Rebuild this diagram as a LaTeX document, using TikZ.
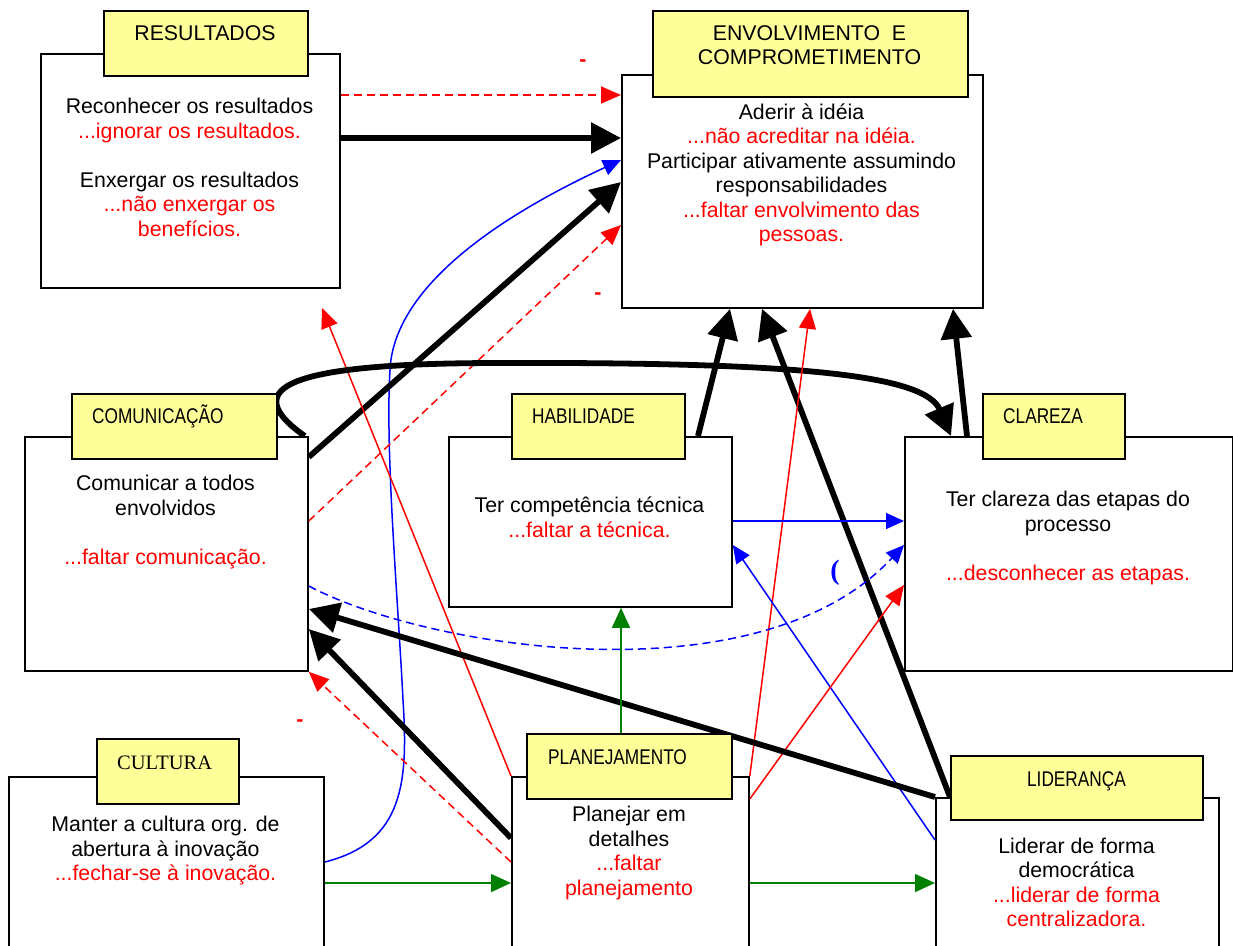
\documentclass[tikz,border=0pt]{standalone}
\usepackage{fontspec}
\setmainfont{Liberation Sans}
\newfontfamily\tagfont[FakeStretch=0.81]{Liberation Sans}
\newfontfamily\serifcult{Liberation Serif}
\usetikzlibrary{arrows.meta}
\definecolor{tagyellow}{RGB}{255,255,153}
\definecolor{negred}{RGB}{255,0,0}
\definecolor{posblue}{RGB}{0,0,255}
\definecolor{growgreen}{RGB}{0,128,0}
\pgfdeclarelayer{front}
\pgfsetlayers{main,front}
\newcommand{\bodysize}{\fontsize{21.3}{24.5}\selectfont}
\newcommand{\risk}[1]{\textcolor{negred}{#1}}
\tikzset{font=\bodysize}
\tikzset{
  bodybox/.style={draw, fill=white, line width=1.8pt, inner sep=0pt, anchor=north west},
  tagbox/.style={draw, fill=tagyellow, line width=1.8pt, inner sep=0pt, anchor=north west},
  tagname/.style={font=\tagfont\bodysize, inner sep=0pt, anchor=base west},
  gist/.style={align=center, inner sep=0pt, anchor=base},
  strong/.style={line width=5.8pt, -{Triangle[length=30pt,width=30pt]}},
  negline/.style={negred, line width=1.5pt, -{Triangle[length=20pt,width=17pt]}},
  negdash/.style={negline, dash pattern=on 8pt off 5pt},
  posline/.style={posblue, line width=1.5pt, -{Triangle[length=18pt,width=16pt]}},
  posdash/.style={posline, dash pattern=on 8pt off 5pt},
  growline/.style={growgreen, line width=1.5pt, -{Triangle[length=20pt,width=18pt]}},
  minus/.style={text=negred, font=\bodysize\bfseries, inner sep=0pt},
}

\begin{document}
\begin{tikzpicture}[x=1pt,y=-1pt]
  \useasboundingbox (0,0) rectangle (1233,945);
  % boxes
  \node[bodybox, minimum width=299pt, minimum height=234pt] (res) at (40,53) {};
  \node[bodybox, minimum width=361pt, minimum height=233pt] (env) at (621,74) {};
  \node[bodybox, minimum width=283pt, minimum height=234pt] (com) at (24,436) {};
  \node[bodybox, minimum width=283pt, minimum height=170pt] (hab) at (448,436) {};
  \node[bodybox, minimum width=328pt, minimum height=234pt] (cla) at (904,436) {};
  \node[bodybox, minimum width=315pt, minimum height=180pt] (cul) at (8,776) {};
  \node[bodybox, minimum width=237pt, minimum height=180pt] (pla) at (511,776) {};
  \node[bodybox, minimum width=283pt, minimum height=160pt] (lid) at (935,797) {};

  % texts (placed by the baseline of their last line)
  \node[gist] (resB) at (189.5,236) {Reconhecer os resultados\\
    \risk{...ignorar os resultados.}\\[24.5pt]
    Enxergar os resultados\\ \risk{...não enxergar os}\\ \risk{benefícios.}};
  \node[gist] (envB) at (801.5,241.5) {Aderir à idéia\\ \risk{...não acreditar na idéia.}\\
    Participar ativamente assumindo\\ responsabilidades\\
    \risk{...faltar envolvimento das}\\ \risk{pessoas.}};
  \node[gist] (comB) at (165.5,564) {Comunicar a todos\\ envolvidos\\[24.5pt]
    \risk{...faltar comunicação.}};
  \node[gist] (habB) at (589.5,537) {Ter competência técnica\\ \risk{...faltar a técnica.}};
  \node[gist] (claB) at (1068,580) {Ter clareza das etapas do\\ processo\\[24.5pt]
    \risk{...desconhecer as etapas.}};
  \node[gist] (culB) at (165.5,880.5) {Manter a cultura org. de\\ abertura à inovação\\
    \risk{...fechar-se à inovação.}};
  \node[gist] (plaB) at (629,895) {Planejar em\\ detalhes\\ \risk{...faltar}\\ \risk{planejamento}};
  \node[gist] (lidB) at (1076.5,926.7) {Liderar de forma\\ democrática\\
    \risk{...liderar de forma}\\ \risk{centralizadora.}};

  % tags
  \begin{pgfonlayer}{front}
  \node[tagbox, minimum width=204pt, minimum height=65pt] (resT) at (103,10) {};
  \node[tagbox, minimum width=315pt, minimum height=86pt] (envT) at (652,10) {};
  \node[tagbox, minimum width=205pt, minimum height=65pt] (comT) at (71,393) {};
  \node[tagbox, minimum width=173pt, minimum height=65pt] (habT) at (511,393) {};
  \node[tagbox, minimum width=142pt, minimum height=65pt] (claT) at (982,393) {};
  \node[tagbox, minimum width=142pt, minimum height=65pt] (culT) at (96,738) {};
  \node[tagbox, minimum width=205pt, minimum height=65pt] (plaT) at (526,733) {};
  \node[tagbox, minimum width=252pt, minimum height=64pt] (lidT) at (950,755) {};

  \node[gist] (resN) at (205,40.7) {RESULTADOS};
  \node[gist, font=\fontsize{21.3}{23.7}\selectfont] (envN) at (809.5,64)
    {ENVOLVIMENTO\ \ E\\ COMPROMETIMENTO};
  \node[tagname] (comN) at (92,423.3) {COMUNICAÇÃO};
  \node[tagname] (habN) at (532,423.3) {HABILIDADE};
  \node[tagname] (claN) at (1003,423.3) {CLAREZA};
  \node[tagname, font=\serifcult\fontsize{20.5}{21}\selectfont] (culN) at (117,769.3) {CULTURA};
  \node[tagname] (plaN) at (548,764) {PLANEJAMENTO};
  \node[tagname, anchor=base] (lidN) at (1076.5,786) {LIDERANÇA};
  \end{pgfonlayer}

  % links
  \coordinate (resfoot) at (322,308);
  \draw[negdash] (res.east |- 0,95) -- (env.west |- 0,95);
  \draw[strong] (res.east |- 0,138) -- (env.west |- 0,138);
  \draw[posline] (cul.east |- 0,862) .. controls (405,842) and (408,780) .. (403,700)
    .. controls (398,600) and (385,450) .. (390,370)
    .. controls (393,300) and (470,230) .. (env.west |- 0,160);
  \draw[strong] (com.east |- 0,457) -- (env.west |- 0,182);
  \draw[negdash] (com.east |- 0,521) -- (env.west |- 0,225);
  \draw[negline] (pla.north west) -- (resfoot);
  \draw[strong] ([xshift=-4pt]com.north east) .. controls (225,380) and (320,363) .. (500,363)
    .. controls (800,362) and (925,375) .. (cla.north west -| 951,0);
  \draw[strong] (hab.north -| 698,0) -- (env.south -| 730,0);
  \draw[strong] (lid.north -| lidT.west) -- (env.south -| 762,0);
  \draw[negline] (pla.north east) -- (env.south -| 810,0);
  \draw[strong] (cla.north -| 967,0) -- (env.south -| 953,0);
  \draw[posline] (hab.east |- 0,521) -- (cla.west |- 0,521);
  \draw[posline] (lid.west |- 0,840) -- (hab.east |- 0,545);
  \draw[posdash] (com.east |- 0,586) .. controls (430,650) and (760,700) .. (cla.west |- 0,545);
  \draw[negline] (pla.east |- 0,799) -- (cla.west |- 0,585);
  \draw[strong] (lid.north west) -- (com.east |- 0,609);
  \draw[strong] (pla.west |- 0,838) -- (com.east |- 0,629);
  \draw[negdash] (pla.west |- 0,862) -- (com.south east);
  \draw[growline] (cul.east |- 0,883) -- (pla.west |- 0,883);
  \draw[growline] (plaT.north -| 621,0) -- (hab.south -| 621,0);
  \draw[growline] (pla.east |- 0,883) -- (lid.west |- 0,883);

  % signs
  \node[minus] (m1) at (583,63) {-};
  \node[minus] (m2) at (598,296) {-};
  \node[minus] (m3) at (300,723) {-};
  \node[text=posblue, font=\serifcult\bfseries\fontsize{28}{28}\selectfont, inner sep=0pt] (paren) at (835,573) {(};
\end{tikzpicture}
\end{document}
